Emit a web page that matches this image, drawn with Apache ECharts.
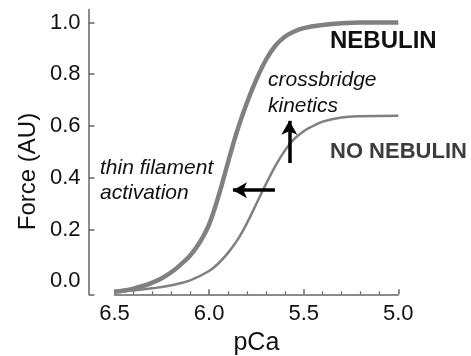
<!DOCTYPE html>
<html>
<head>
<meta charset="utf-8">
<script src="https://cdn.jsdelivr.net/npm/echarts@6.0.0/dist/echarts.min.js"></script>
<style>
  html, body { margin: 0; padding: 0; background: #fff; }
  #myChart { width: 471px; height: 356px; }
</style>
</head>
<body>
<div id="myChart"></div>
<script>
// pCa vs force
var nebulin = [
  [6.5, -0.04], [6.45, -0.035], [6.4, -0.028], [6.35, -0.018], [6.3, -0.005],
  [6.25, 0.012], [6.2, 0.035], [6.15, 0.065], [6.1, 0.1], [6.05, 0.15],
  [6.0, 0.22], [5.95, 0.33], [5.9, 0.46], [5.85, 0.585], [5.8, 0.69],
  [5.75, 0.78], [5.7, 0.855], [5.65, 0.91], [5.6, 0.945], [5.55, 0.965],
  [5.5, 0.978], [5.4, 0.99], [5.3, 0.997], [5.2, 1.0], [5.0, 1.0]
];
var noNebulin = [
  [6.5, -0.04], [6.4, -0.035], [6.3, -0.027], [6.2, -0.015], [6.1, 0.004],
  [6.0, 0.04], [5.95, 0.07], [5.9, 0.11], [5.85, 0.16], [5.8, 0.225],
  [5.75, 0.3], [5.7, 0.375], [5.65, 0.445], [5.6, 0.505], [5.55, 0.55],
  [5.5, 0.58], [5.45, 0.6], [5.4, 0.617], [5.3, 0.633], [5.2, 0.638], [5.0, 0.64]
];
// annotation arrows: [from, to]
var activationArrow = [[5.652, 0.352], [5.874, 0.352]];
var kineticsArrow = [[5.576, 0.457], [5.576, 0.62]];
var yTicks = [0, 0.2, 0.4, 0.6, 0.8, 1.0];
var yTickMarks = [-0.05, 0.2, 0.4, 0.6, 0.8, 1.0];
var yMin = -0.05, yMax = 1.05;

var font = '"Liberation Sans", Arial, sans-serif';
var chartDom = document.getElementById("myChart");
var myChart = echarts.init(chartDom, null, { renderer: "canvas" });

var arrowLine = function (pts) {
  return {
    silent: true,
    symbol: ["none", "arrow"],
    symbolSize: [12, 14],
    label: { show: false },
    lineStyle: { color: "#000", width: 3.5, type: "solid" },
    data: [[{ coord: pts[0] }, { coord: pts[1] }]]
  };
};

var option = {
  animation: false,
  grid: [
    // plot area
    { left: 114.5, right: 72.7, top: 9.5, bottom: 61.7, outerBoundsMode: "none" },
    // y axis sits a bit left of the x axis start
    { left: 88.5, width: 300, top: 9.5, bottom: 61.7, outerBoundsMode: "none" }
  ],
  xAxis: [
    {
      type: "value",
      min: 5.0,
      max: 6.5,
      interval: 0.5,
      inverse: true,
      name: "pCa",
      nameLocation: "middle",
      nameGap: 30,
      nameTextStyle: { fontFamily: font, fontSize: 25, color: "#111" },
      axisLine: { show: true, onZero: false, lineStyle: { color: "#666", width: 1.5 } },
      axisTick: { show: true, inside: true, length: 5, lineStyle: { color: "#666", width: 1.5 } },
      minorTick: { show: true, splitNumber: 5, length: 3, lineStyle: { color: "#666", width: 1.2 } },
      splitLine: { show: false },
      axisLabel: {
        margin: 9,
        fontFamily: font,
        fontSize: 22,
        color: "#111",
        showMinLabel: true,
        showMaxLabel: true,
        formatter: function (v) { return v.toFixed(1); }
      }
    },
    { gridIndex: 1, type: "value", show: false, min: 0, max: 1 }
  ],
  yAxis: [
    { type: "value", min: yMin, max: yMax, show: false },
    {
      gridIndex: 1,
      type: "value",
      min: yMin,
      max: yMax,
      axisLine: { show: true, lineStyle: { color: "#666", width: 1.5 } },
      axisTick: { show: true, inside: true, length: 6, customValues: yTickMarks, lineStyle: { color: "#666", width: 1.5 } },
      splitLine: { show: false },
      axisLabel: {
        margin: 8,
        fontFamily: font,
        fontSize: 22,
        color: "#111",
        customValues: yTicks,
        formatter: function (v) { return v.toFixed(1); }
      }
    }
  ],
  graphic: [
    {
      type: "text", x: 28.5, y: 171.5, rotation: Math.PI / 2,
      style: { text: "Force (AU)", font: "24px " + font, fill: "#111", align: "center", verticalAlign: "middle" }
    },
    {
      type: "text", x: 330, y: 41.6,
      style: { text: "NEBULIN", font: "bold 24px " + font, fill: "#111", verticalAlign: "middle" }
    },
    {
      type: "text", x: 330, y: 152.3,
      style: { text: "NO NEBULIN", font: "bold 22px " + font, fill: "#3c3c3c", verticalAlign: "middle" }
    },
    {
      type: "text", x: 268, y: 80,
      style: { text: "crossbridge", font: "italic 21px " + font, fill: "#111", verticalAlign: "middle" }
    },
    {
      type: "text", x: 268, y: 106,
      style: { text: "kinetics", font: "italic 21px " + font, fill: "#111", verticalAlign: "middle" }
    },
    {
      type: "text", x: 100, y: 167.7,
      style: { text: "thin filament", font: "italic 21px " + font, fill: "#111", verticalAlign: "middle" }
    },
    {
      type: "text", x: 100, y: 192.7,
      style: { text: "activation", font: "italic 21px " + font, fill: "#111", verticalAlign: "middle" }
    }
  ],
  series: [
    {
      name: "NO NEBULIN",
      type: "line",
      smooth: 0.4,
      showSymbol: false,
      lineStyle: { color: "#808080", width: 2.5 },
      data: noNebulin,
      markLine: arrowLine(kineticsArrow)
    },
    {
      name: "NEBULIN",
      type: "line",
      smooth: 0.4,
      showSymbol: false,
      lineStyle: { color: "#808080", width: 4.5 },
      data: nebulin,
      markLine: arrowLine(activationArrow)
    }
  ]
};
option && myChart.setOption(option);
</script>
</body>
</html>
